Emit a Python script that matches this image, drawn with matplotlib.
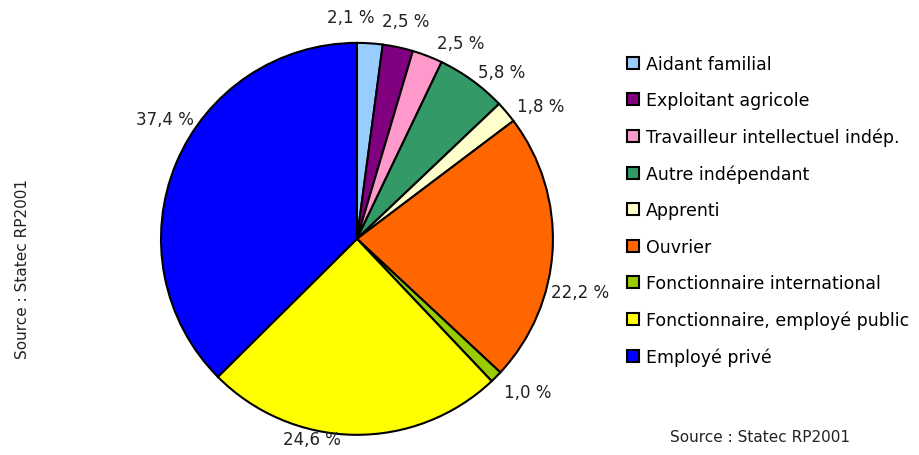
import matplotlib.pyplot as plt

categories = ['Aidant familial', 'Exploitant agricole', 'Travailleur intellectuel indép.',
              'Autre indépendant', 'Apprenti', 'Ouvrier', 'Fonctionnaire international',
              'Fonctionnaire, employé public', 'Employé privé']
values = [2.1, 2.5, 2.5, 5.8, 1.8, 22.2, 1.0, 24.6, 37.4]
colors = ['#99CCFF', '#800080', '#FF99CC', '#339966', '#FFFFCC',
          '#FF6600', '#99CC00', '#FFFF00', '#0000FF']

labels = [('%.1f %%' % v).replace('.', ',') for v in values]

# where Excel put the value labels (pie radius = 1)
label_pos = [(-0.03, 1.13), (0.25, 1.11), (0.53, 1.0), (0.74, 0.85), (0.94, 0.68),
             (1.14, -0.27), (0.87, -0.78), (-0.23, -1.02), (-0.98, 0.61)]

fig = plt.figure(figsize=(9.2, 4.56), dpi=100)
ax = fig.add_axes([0.175, 0.044, 0.426, 0.86])

wedges, texts = ax.pie(values, colors=colors, labels=labels, startangle=90,
                       counterclock=False, radius=1,
                       wedgeprops=dict(edgecolor='black', linewidth=1.5),
                       textprops=dict(fontsize=12, color='#222222'))
for t, p in zip(texts, label_pos):
    t.set_position(p)
    t.set_ha('center')
    t.set_va('center')
ax.set_xlim(-1, 1)
ax.set_ylim(-1, 1)
ax.set_aspect('equal')

fig.legend(wedges, categories, loc='upper left', bbox_to_anchor=(0.664, 0.912),
           frameon=False, fontsize=12.5, handlelength=0.7, handleheight=0.7,
           handletextpad=0.4, labelspacing=1.06)

fig.text(0.024, 0.41, 'Source : Statec RP2001', rotation=90, ha='center', va='center',
         fontsize=11, color='#222222')
fig.text(0.826, 0.04, 'Source : Statec RP2001', ha='center', va='center',
         fontsize=11, color='#222222')

fig.savefig('out.png', dpi=100)
